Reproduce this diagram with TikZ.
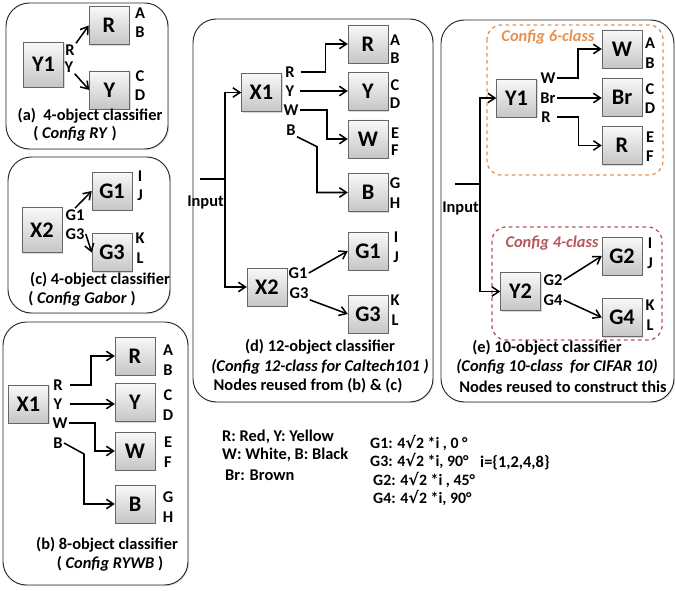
\documentclass[tikz,border=0pt]{standalone}
\usepackage{fontspec}
\setmainfont{Carlito}
\newfontfamily\symfont{DejaVu Sans}
\usetikzlibrary{arrows.meta, shadows, positioning}
\definecolor{cfgorange}{HTML}{E8914F}
\definecolor{cfgred}{HTML}{B5575A}
\tikzset{
  panel/.style={
    draw=black!85, line width=0.8pt, rounded corners=20pt, fill=white,
    drop shadow={shadow xshift=1pt, shadow yshift=-1pt, opacity=0.2}
  },
  cfgbox/.style={
    draw=#1, dashed, line width=1.1pt, rounded corners=12pt
  },
  cls/.style={
    rectangle, draw=black!60, top color=gray!5, bottom color=gray!45,
    minimum width=1.2cm, minimum height=1.14cm, inner sep=0pt,
    font=\fontsize{19}{19}\selectfont\bfseries,
    drop shadow={shadow xshift=1pt, shadow yshift=-1pt, opacity=0.3}
  },
  brtag/.style={font=\fontsize{14}{14}\selectfont\bfseries, inner sep=1pt},
  outlbl/.style={font=\fontsize{14}{14}\selectfont\bfseries, inner sep=0pt},
  captxt/.style={font=\fontsize{14}{14}\selectfont\bfseries, inner sep=0pt},
  link/.style={-{Straight Barb[length=6pt, width=8pt]}, line width=1.3pt}
}

\begin{document}
\begin{tikzpicture}[x=0.03cm, y=-0.03cm]
  \useasboundingbox (0,0) rectangle (675,591);

  % Panels
  \draw[panel] (6,3) rectangle (168,149);
  \draw[panel] (8,157) rectangle (170,313);
  \draw[panel] (3,322) rectangle (188,585);
  \draw[panel] (193,19) rectangle (433,402);
  \draw[panel] (441,20) rectangle (674,402);
  \draw[cfgbox=cfgorange] (487,25) rectangle (663,175);
  \draw[cfgbox=cfgred] (492,227) rectangle (662,340);

  % (a) 4-object classifier
  \node[cls, minimum height=1.35cm] (aY1) at (43.5,64.5) {Y1};
  \node[cls] (aR) at (109,25.5) {R};
  \node[cls] (aY) at (109.5,90) {Y};
  \node[brtag] (aRt) at (70,50) {R};
  \node[brtag] (aYt) at (69,67) {Y};
  \draw[link] (aRt.north east) -- (aR.west);
  \draw[link] (aYt.south east) -- (aY.west);
  \node[outlbl] (aA) at (140,13) {A};
  \node[outlbl] (aB) at (140,32) {B};
  \node[outlbl] (aC) at (140,76) {C};
  \node[outlbl] (aD) at (140,95) {D};
  \node[captxt] (acap) at (90,116) {(a)\ \ 4-object classifier};
  \node[captxt] (acfg) at (75,134) {( \textit{Config RY} )};

  % (c) 4-object classifier
  \node[cls, minimum height=1.35cm] (cX2) at (42,230) {X2};
  \node[cls] (cG1) at (112,191) {G1};
  \node[cls] (cG3) at (112,252.5) {G3};
  \node[brtag] (cG1t) at (75,215) {G1};
  \node[brtag] (cG3t) at (75,234) {G3};
  \draw[link] (cG1t.north) -- (cG1.west);
  \draw[link] (cG3t.east) -- (cG3.west);
  \node[outlbl] (cI) at (140,176) {I};
  \node[outlbl] (cJ) at (140,195) {J};
  \node[outlbl] (cK) at (140,238) {K};
  \node[outlbl] (cL) at (140,258) {L};
  \node[captxt] (ccap) at (100,280) {(c) 4-object classifier};
  \node[captxt] (ccfg) at (82,299) {( \textit{Config Gabor} )};

  % (b) 8-object classifier
  \node[cls] (bX1) at (28.5,404) {X1};
  \node[cls] (bR) at (135,356) {R};
  \node[cls] (bY) at (135,402.5) {Y};
  \node[cls] (bW) at (135,451) {W};
  \node[cls] (bB) at (135,504) {B};
  \node[brtag] (bRt) at (58,385) {R};
  \node[brtag] (bYt) at (58,404) {Y};
  \node[brtag] (bWt) at (60,423) {W};
  \node[brtag] (bBt) at (58,443) {B};
  \draw[link] ([xshift=5pt]bRt.east) -- ++(21,0) |- (bR.west);
  \draw[link] ([xshift=5pt]bYt.east) -- (bYt.east -| bY.west);
  \draw[link] (bWt.east) -- ++(26,0) |- (bW.west);
  \draw[link] (bBt.east) -- ++(20,11) |- (bB.west);
  \node[outlbl] (bA) at (168,350) {A};
  \node[outlbl] (bBb) at (168,370) {B};
  \node[outlbl] (bC) at (168,395) {C};
  \node[outlbl] (bD) at (168,415) {D};
  \node[outlbl] (bE) at (168,442) {E};
  \node[outlbl] (bF) at (168,462) {F};
  \node[outlbl] (bG) at (168,497) {G};
  \node[outlbl] (bH) at (168,517) {H};
  \node[captxt] (bcap) at (107,545) {(b) 8-object classifier};
  \node[captxt] (bcfg) at (110,564) {( \textit{Config RYWB} )};

  % (d) 12-object classifier
  \coordinate (dIn) at (200,179);
  \coordinate (dJ) at (225,179);
  \node[captxt, anchor=east] (dInl) at (224,202) {Input};
  \node[cls] (dX1) at (261.5,92.5) {X1};
  \node[cls] (dX2) at (267,287) {X2};
  \node[cls] (dR) at (368,44) {R};
  \node[cls] (dY) at (368,91.5) {Y};
  \node[cls] (dW) at (368,139) {W};
  \node[cls] (dB) at (368,192.5) {B};
  \node[cls] (dG1) at (368,251) {G1};
  \node[cls] (dG3) at (368,314) {G3};
  \draw[line width=1.3pt] (dIn) -- (dJ);
  \draw[link] (dJ) |- (dX1.west);
  \draw[link] (dJ) |- (dX2.west);
  \node[brtag] (dRt) at (290,72) {R};
  \node[brtag] (dYt) at (290,91) {Y};
  \node[brtag] (dWt) at (291,110) {W};
  \node[brtag] (dBt) at (291,130) {B};
  \node[brtag] (dG1t) at (298,273) {G1};
  \node[brtag] (dG3t) at (299,293) {G3};
  \draw[link] ([xshift=4pt]dRt.east) -- ++(25,0) |- (dR.west);
  \draw[link] ([xshift=4pt]dYt.east) -- (dYt.east -| dY.west);
  \draw[link] (dWt.east) -- ++(27,0) |- (dW.west);
  \draw[link] (dBt.south east) -- ++(20,10) |- (dB.west);
  \draw[link] (dG1t.east) -- (dG1.west);
  \draw[link] (dG3t.south east) -- (dG3.west);
  \node[outlbl] (dA) at (395,40) {A};
  \node[outlbl] (dBb) at (395,58) {B};
  \node[outlbl] (dC) at (395,85) {C};
  \node[outlbl] (dD) at (395,103) {D};
  \node[outlbl] (dE) at (395,133) {E};
  \node[outlbl] (dF) at (395,150) {F};
  \node[outlbl] (dG) at (395,183) {G};
  \node[outlbl] (dH) at (395,203) {H};
  \node[outlbl] (dI) at (396,237) {I};
  \node[outlbl] (dJl) at (396,257) {J};
  \node[outlbl] (dK) at (395,300) {K};
  \node[outlbl] (dL) at (395,320) {L};
  \node[captxt] (dcap) at (320,347) {(d) 12-object classifier};
  \node[captxt] (dcfg) at (320,367) {\textit{(Config 12-class for Caltech101 )}};
  \node[captxt] (dreuse) at (308,386) {Nodes reused from (b) \& (c)};

  % (e) 10-object classifier
  \coordinate (eIn) at (455,184);
  \coordinate (eJ) at (480,184);
  \node[captxt, anchor=east] (eInl) at (479,208) {Input};
  \node[captxt, text=cfgorange] (e6) at (548,37) {\textit{Config 6-class}};
  \node[captxt, text=cfgred] (e4) at (552,243) {\textit{Config 4-class}};
  \node[cls] (eY1) at (516.5,98) {Y1};
  \node[cls] (eY2) at (520.5,291.5) {Y2};
  \node[cls] (eW) at (622,49) {W};
  \node[cls] (eBr) at (622,97) {Br};
  \node[cls] (eR) at (622,145.5) {R};
  \node[cls] (eG2) at (622,256) {G2};
  \node[cls] (eG4) at (622,317.5) {G4};
  \draw[line width=1.3pt] (eIn) -- (eJ);
  \draw[link] (eJ) |- (eY1.west);
  \draw[link] (eJ) |- (eY2.west);
  \node[brtag] (eWt) at (548,78) {W};
  \node[brtag] (eBrt) at (548,98) {Br};
  \node[brtag] (eRt) at (546,117) {R};
  \node[brtag] (eG2t) at (553,280) {G2};
  \node[brtag] (eG4t) at (553,300) {G4};
  \draw[link] (eWt.east) -- ++(21,0) |- (eW.west);
  \draw[link] (eBrt.east) -- (eBrt.east -| eBr.west);
  \draw[link] ([xshift=4pt]eRt.east) -- ++(22,0) |- (eR.west);
  \draw[link] (eG2t.east) -- (eG2.west);
  \draw[link] (eG4t.east) -- (eG4.west);
  \node[outlbl] (eA) at (650,43) {A};
  \node[outlbl] (eBb) at (650,63) {B};
  \node[outlbl] (eC) at (650,89) {C};
  \node[outlbl] (eD) at (650,108) {D};
  \node[outlbl] (eE) at (650,137) {E};
  \node[outlbl] (eF) at (650,156) {F};
  \node[outlbl] (eI) at (650,243) {I};
  \node[outlbl] (eJl) at (650,263) {J};
  \node[outlbl] (eK) at (650,305) {K};
  \node[outlbl] (eL) at (650,325) {L};
  \node[captxt] (ecap) at (547,348) {(e) 10-object classifier};
  \node[captxt] (ecfg) at (557,367) {\textit{(Config 10-class\ \ for CIFAR 10)}};
  \node[captxt] (ereuse) at (563,387) {Nodes reused to construct this};

  % Legend
  \node[captxt, anchor=west] (lg1) at (222,437) {R: Red, Y: Yellow};
  \node[captxt, anchor=west] (lg2) at (222,455) {W: White, B: Black};
  \node[captxt, anchor=west] (lg3) at (225,475) {Br: Brown};
  \node[captxt, anchor=west, font=\fontsize{13.5}{13.5}\selectfont\bfseries] (gb1) at (370,443) {G1: 4{\symfont √}2 *i , 0 °};
  \node[captxt, anchor=west, font=\fontsize{13.5}{13.5}\selectfont\bfseries] (gb3) at (370,461) {G3: 4{\symfont √}2 *i, 90°};
  \node[captxt, anchor=west, font=\fontsize{13.5}{13.5}\selectfont\bfseries] (gb2) at (373,480) {G2: 4{\symfont √}2 *i , 45°};
  \node[captxt, anchor=west, font=\fontsize{13.5}{13.5}\selectfont\bfseries] (gb4) at (373,498) {G4: 4{\symfont √}2 *i, 90°};
  \node[captxt, anchor=west] (gbi) at (480,463) {i=\{1,2,4,8\}};

\end{tikzpicture}
\end{document}
